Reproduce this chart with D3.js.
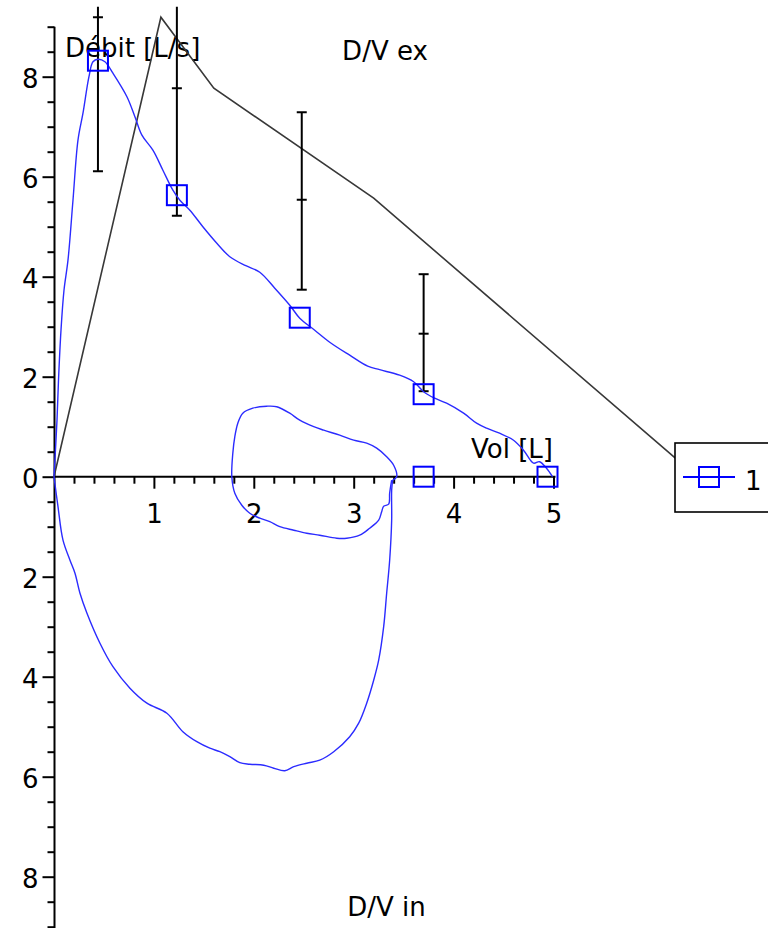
<!DOCTYPE html>
<html>
<head>
<meta charset="utf-8">
<script src="https://cdn.jsdelivr.net/npm/d3@7"></script>
<style>
  body { margin: 0; background: #fff; }
  svg { display: block; }
  text { font-family: "DejaVu Sans", sans-serif; font-size: 26px; fill: #000; }
</style>
</head>
<body>
<svg id="chart" width="768" height="928"></svg>
<script>
// Forced expiration: volume [L] and flow [L/s]
const expVol  = [0, 0.03, 0.045, 0.07, 0.10, 0.14, 0.19, 0.24, 0.29, 0.35, 0.39, 0.44, 0.51, 0.59, 0.73, 0.81, 0.88, 0.99, 1.09, 1.19, 1.26, 1.36, 1.49, 1.63, 1.76, 1.92, 2.06, 2.21, 2.36, 2.46, 2.61, 2.76, 2.96, 3.14, 3.26, 3.46, 3.60, 3.70, 3.81, 3.93, 4.10, 4.23, 4.33, 4.46, 4.60, 4.70, 4.80, 4.86, 4.93, 4.99];
const expFlow = [0, 1.13, 1.93, 2.93, 3.73, 4.33, 5.53, 6.73, 7.27, 8.00, 8.30, 8.35, 8.30, 8.07, 7.60, 7.20, 6.83, 6.53, 6.13, 5.73, 5.53, 5.33, 5.00, 4.67, 4.40, 4.22, 4.09, 3.77, 3.43, 3.17, 2.93, 2.69, 2.43, 2.21, 2.14, 2.03, 1.90, 1.70, 1.57, 1.47, 1.27, 1.07, 0.97, 0.87, 0.73, 0.53, 0.27, 0.30, 0.17, 0];

// Forced inspiration (flow drawn downward)
const inspVol  = [0, 0.04, 0.09, 0.16, 0.21, 0.26, 0.33, 0.46, 0.59, 0.76, 0.93, 1.13, 1.29, 1.43, 1.56, 1.66, 1.76, 1.86, 1.96, 2.10, 2.20, 2.31, 2.40, 2.53, 2.66, 2.80, 2.96, 3.05, 3.13, 3.20, 3.25, 3.30, 3.33, 3.36, 3.38, 3.38, 3.39];
const inspFlow = [0, -0.60, -1.27, -1.67, -1.93, -2.33, -2.73, -3.33, -3.80, -4.23, -4.53, -4.73, -5.10, -5.30, -5.43, -5.50, -5.60, -5.72, -5.75, -5.77, -5.83, -5.88, -5.80, -5.73, -5.67, -5.50, -5.20, -4.93, -4.53, -4.07, -3.67, -3.00, -2.33, -1.67, -0.87, -0.27, -0.07];

// Tidal breathing loop
const tidalVol  = [3.39, 3.43, 3.40, 3.33, 3.23, 3.13, 3.00, 2.86, 2.70, 2.60, 2.46, 2.36, 2.23, 2.13, 1.99, 1.89, 1.84, 1.81, 1.79, 1.78, 1.81, 1.88, 1.96, 2.06, 2.16, 2.26, 2.40, 2.53, 2.66, 2.83, 2.93, 3.06, 3.16, 3.25, 3.28, 3.30, 3.35, 3.36, 3.38];
const tidalFlow = [-0.07, 0, 0.23, 0.40, 0.57, 0.67, 0.73, 0.83, 0.93, 1.00, 1.13, 1.27, 1.40, 1.41, 1.37, 1.27, 1.07, 0.80, 0.47, 0, -0.33, -0.57, -0.73, -0.83, -0.90, -1.00, -1.07, -1.13, -1.17, -1.23, -1.23, -1.17, -1.03, -0.87, -0.70, -0.59, -0.55, -0.33, -0.07];

// Predicted flow-volume curve
const refVol  = [0, 1.07, 1.60, 3.20, 6.22];
const refFlow = [0, 9.19, 7.77, 5.57, 0.37];

// Measured points (PEF, FEF25, FEF50, FEF75, FEV1, FVC)
const markerVol  = [0.44, 1.23, 2.46, 3.70, 3.70, 4.94];
const markerFlow = [8.32, 5.63, 3.18, 1.65, 0, 0];

// Predicted values with their ranges
const barVol  = [0.44, 1.23, 2.48, 3.70];
const barMid  = [9.19, 7.77, 5.54, 2.86];
const barLow  = [6.11, 5.22, 3.74, 1.71];
const barHigh = [12.27, 10.32, 7.29, 4.05];

const xTickValues = [1, 2, 3, 4, 5];
const yTickValues = [-8, -6, -4, -2, 0, 2, 4, 6, 8];
const legendLabels = ["1"];

const svg = d3.select("#chart");

const x = d3.scaleLinear().domain([0, 5]).range([54, 553.5]);
const y = d3.scaleLinear().domain([-9, 9]).range([926.7, 26.7]);

// visible plot window
svg.append("defs").append("clipPath").attr("id", "plotClip")
  .append("rect").attr("x", 0).attr("y", y(9.4)).attr("width", 768).attr("height", 928);

// axis titles
svg.append("text").attr("x", 65).attr("y", 57).text("Débit [L/s]");
svg.append("text").attr("x", 385).attr("y", 60).attr("text-anchor", "middle").text("D/V ex");
svg.append("text").attr("x", 386.5).attr("y", 916).attr("text-anchor", "middle").text("D/V in");
svg.append("text").attr("x", 553).attr("y", 458).attr("text-anchor", "end").text("Vol [L]");

// axes
const xMinor = d3.range(0.2, 5.01, 0.2).filter(v => Math.abs(v - Math.round(v)) > 1e-6);
const yMinor = d3.range(-9, 9.01, 0.5).filter(v => Math.abs(v / 2 - Math.round(v / 2)) > 1e-6);

const xAxisG = svg.append("g").attr("transform", `translate(0,${y(0)})`);
xAxisG.append("g").call(d3.axisBottom(x).tickValues(xMinor).tickSize(7).tickFormat(""));
xAxisG.append("g").call(d3.axisBottom(x).tickValues(xTickValues).tickSize(12).tickPadding(6).tickFormat(d3.format("d")));
xAxisG.selectAll(".domain").remove();
xAxisG.selectAll("text").attr("font-size", null).attr("font-family", null).attr("dy", null).attr("y", 46);
xAxisG.selectAll("line").attr("stroke", "#000").attr("stroke-width", 2);
xAxisG.append("line").attr("x1", x(0)).attr("x2", x(5.02)).attr("y1", 0).attr("y2", 0)
  .attr("stroke", "#000").attr("stroke-width", 2);

const yAxisG = svg.append("g").attr("transform", `translate(${x(0) + 0.5},0)`);
yAxisG.append("g").call(d3.axisLeft(y).tickValues(yMinor).tickSize(7).tickFormat(""));
yAxisG.append("g").call(d3.axisLeft(y).tickValues(yTickValues).tickSize(12).tickPadding(4).tickFormat(d => Math.abs(d)));
yAxisG.selectAll(".domain").remove();
yAxisG.selectAll("text").attr("font-size", null).attr("font-family", null).attr("dy", "0.42em");
yAxisG.selectAll("line").attr("stroke", "#000").attr("stroke-width", 2);
yAxisG.append("line").attr("x1", 0).attr("x2", 0).attr("y1", y(9)).attr("y2", 928)
  .attr("stroke", "#000").attr("stroke-width", 2);

const plot = svg.append("g").attr("clip-path", "url(#plotClip)");

const line = d3.line().x(d => x(d[0])).y(d => y(d[1]));

// predicted curve
plot.append("path").datum(d3.zip(refVol, refFlow))
  .attr("d", line).attr("fill", "none").attr("stroke", "#383838").attr("stroke-width", 1.6);

// predicted ranges
const bars = plot.selectAll(".bar").data(d3.range(barVol.length)).join("g").attr("class", "bar");
bars.append("line")
  .attr("x1", i => x(barVol[i])).attr("x2", i => x(barVol[i]))
  .attr("y1", i => y(barHigh[i])).attr("y2", i => y(barLow[i]))
  .attr("stroke", "#000").attr("stroke-width", 2);
[barHigh, barMid, barLow].forEach(arr => {
  bars.append("line")
    .attr("x1", i => x(barVol[i]) - 5).attr("x2", i => x(barVol[i]) + 5)
    .attr("y1", i => y(arr[i])).attr("y2", i => y(arr[i]))
    .attr("stroke", "#000").attr("stroke-width", 2);
});

// measured loops
const blue = "#2b2bff";
[[expVol, expFlow], [inspVol, inspFlow], [tidalVol, tidalFlow]].forEach(([v, f]) => {
  plot.append("path").datum(d3.zip(v, f))
    .attr("d", line.curve(d3.curveCatmullRom.alpha(0.5)))
    .attr("fill", "none").attr("stroke", blue).attr("stroke-width", 1.4);
});

// measured markers
const sq = 20;
plot.selectAll(".marker").data(d3.zip(markerVol, markerFlow)).join("rect")
  .attr("class", "marker")
  .attr("x", d => x(d[0]) - sq / 2).attr("y", d => y(d[1]) - sq / 2)
  .attr("width", sq).attr("height", sq)
  .attr("fill", "none").attr("stroke", "#0000ff").attr("stroke-width", 2);

// legend
const lg = svg.append("g").attr("transform", "translate(675,443)");
lg.append("rect").attr("x", 0).attr("y", 0).attr("width", 120).attr("height", 69)
  .attr("fill", "#fff").attr("stroke", "#000").attr("stroke-width", 1.6);
legendLabels.forEach((lab, i) => {
  const cy = 34 + i * 30;
  lg.append("line").attr("x1", 8).attr("x2", 60).attr("y1", cy).attr("y2", cy)
    .attr("stroke", "#0000ff").attr("stroke-width", 2);
  lg.append("rect").attr("x", 34 - sq / 2).attr("y", cy - sq / 2).attr("width", sq).attr("height", sq)
    .attr("fill", "none").attr("stroke", "#0000ff").attr("stroke-width", 2);
  lg.append("text").attr("x", 70).attr("y", cy + 13).text(lab);
});
</script>
</body>
</html>
